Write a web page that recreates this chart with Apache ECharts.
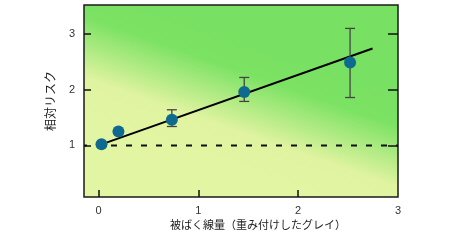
<!DOCTYPE html>
<html><head><meta charset="utf-8">
<script src="https://cdn.jsdelivr.net/npm/echarts@6/dist/echarts.min.js"></script>
<style>html,body{margin:0;padding:0;background:#fff}#c{width:470px;height:240px}</style>
</head><body><div id="c"></div>
<script>
// data
const doseX = [0.03, 0.2, 0.735, 1.46, 2.52];
const riskY = [1.02, 1.25, 1.46, 1.96, 2.49];
const errLow = [null, null, 1.34, 1.79, 1.86];
const errHigh = [null, null, 1.64, 2.22, 3.10];
const fitX = [0.03, 2.745];
const fitY = [1.02, 2.74];
const baseX = [-0.145, 3];
const baseY = [1, 1];
const xTicks = [0, 1, 2, 3];
const yTicks = [1, 2, 3];
const xRange = [-0.145, 3];
const yRange = [0.075, 3.52];

const chart = echarts.init(document.getElementById('c'), null, {renderer: 'canvas'});
const font = "'Liberation Sans', Arial, 'Noto Sans CJK JP', sans-serif";

const pts = doseX.map((x, i) => [x, riskY[i]]);
const errs = doseX.map((x, i) => [x, errLow[i], errHigh[i]]).filter(d => d[1] != null);

chart.setOption({
  animation: false,
  grid: {
    left: 84, right: 72, top: 5, bottom: 43,
    show: true,
    borderColor: '#1a1a1a', borderWidth: 1.5,
    backgroundColor: {
      type: 'linear', global: true,
      x: 220, y: 165, x2: 262, y2: 45,
      colorStops: [
        {offset: 0, color: '#e2f5a3'},
        {offset: 0.3, color: '#dff3a0'},
        {offset: 0.75, color: '#7ce264'},
        {offset: 1, color: '#78e062'}
      ]
    }
  },
  xAxis: {
    type: 'value', min: xRange[0], max: xRange[1],
    name: '被ばく線量（重み付けしたグレイ）', nameLocation: 'middle', nameGap: 22,
    nameTextStyle: {fontFamily: font, fontSize: 11, color: '#222', padding: [0, 0, 0, 34]},
    axisLine: {show: false, onZero: false},
    splitLine: {show: false},
    axisTick: {show: true, inside: true, length: 7, customValues: xTicks.slice(0, 3), lineStyle: {color: '#111', width: 1.5}},
    axisLabel: {customValues: xTicks, fontFamily: font, fontSize: 11, color: '#333', margin: 8}
  },
  yAxis: [{
    type: 'value', min: yRange[0], max: yRange[1], position: 'left',
    name: '相対リスク', nameLocation: 'middle', nameGap: 24,
    nameTextStyle: {fontFamily: font, fontSize: 12, color: '#222'},
    axisLine: {show: false, onZero: false},
    splitLine: {show: false},
    axisTick: {show: true, inside: true, length: 7, customValues: yTicks, lineStyle: {color: '#111', width: 1.5}},
    axisLabel: {customValues: yTicks, fontFamily: font, fontSize: 11, color: '#333', margin: 9}
  }, {
    type: 'value', min: yRange[0], max: yRange[1], position: 'right',
    axisLine: {show: false, onZero: false},
    splitLine: {show: false},
    axisTick: {show: true, inside: true, length: 10, customValues: yTicks, lineStyle: {color: '#111', width: 1.5}},
    axisLabel: {show: false}
  }],
  series: [
    {
      type: 'line', data: baseX.map((x, i) => [x, baseY[i]]), symbol: 'none', silent: true,
      lineStyle: {color: '#111', width: 2, type: [6, 9], dashOffset: 3}, z: 2
    },
    {
      type: 'line', data: fitX.map((x, i) => [x, fitY[i]]), symbol: 'none', silent: true,
      lineStyle: {color: '#000', width: 2}, z: 3
    },
    {
      type: 'custom', data: errs, z: 4,
      renderItem: function (params, api) {
        const x = api.value(0);
        const lo = api.coord([x, api.value(1)]);
        const hi = api.coord([x, api.value(2)]);
        const w = 5;
        const st = {stroke: '#444', lineWidth: 1.3};
        return {type: 'group', children: [
          {type: 'line', shape: {x1: lo[0], y1: lo[1], x2: hi[0], y2: hi[1]}, style: st},
          {type: 'line', shape: {x1: lo[0] - w, y1: lo[1], x2: lo[0] + w, y2: lo[1]}, style: st},
          {type: 'line', shape: {x1: hi[0] - w, y1: hi[1], x2: hi[0] + w, y2: hi[1]}, style: st}
        ]};
      }
    },
    {
      type: 'scatter', data: pts, symbol: 'circle', symbolSize: 12, z: 5,
      itemStyle: {color: '#0e6a8e', opacity: 1}
    }
  ]
});
</script></body></html>
